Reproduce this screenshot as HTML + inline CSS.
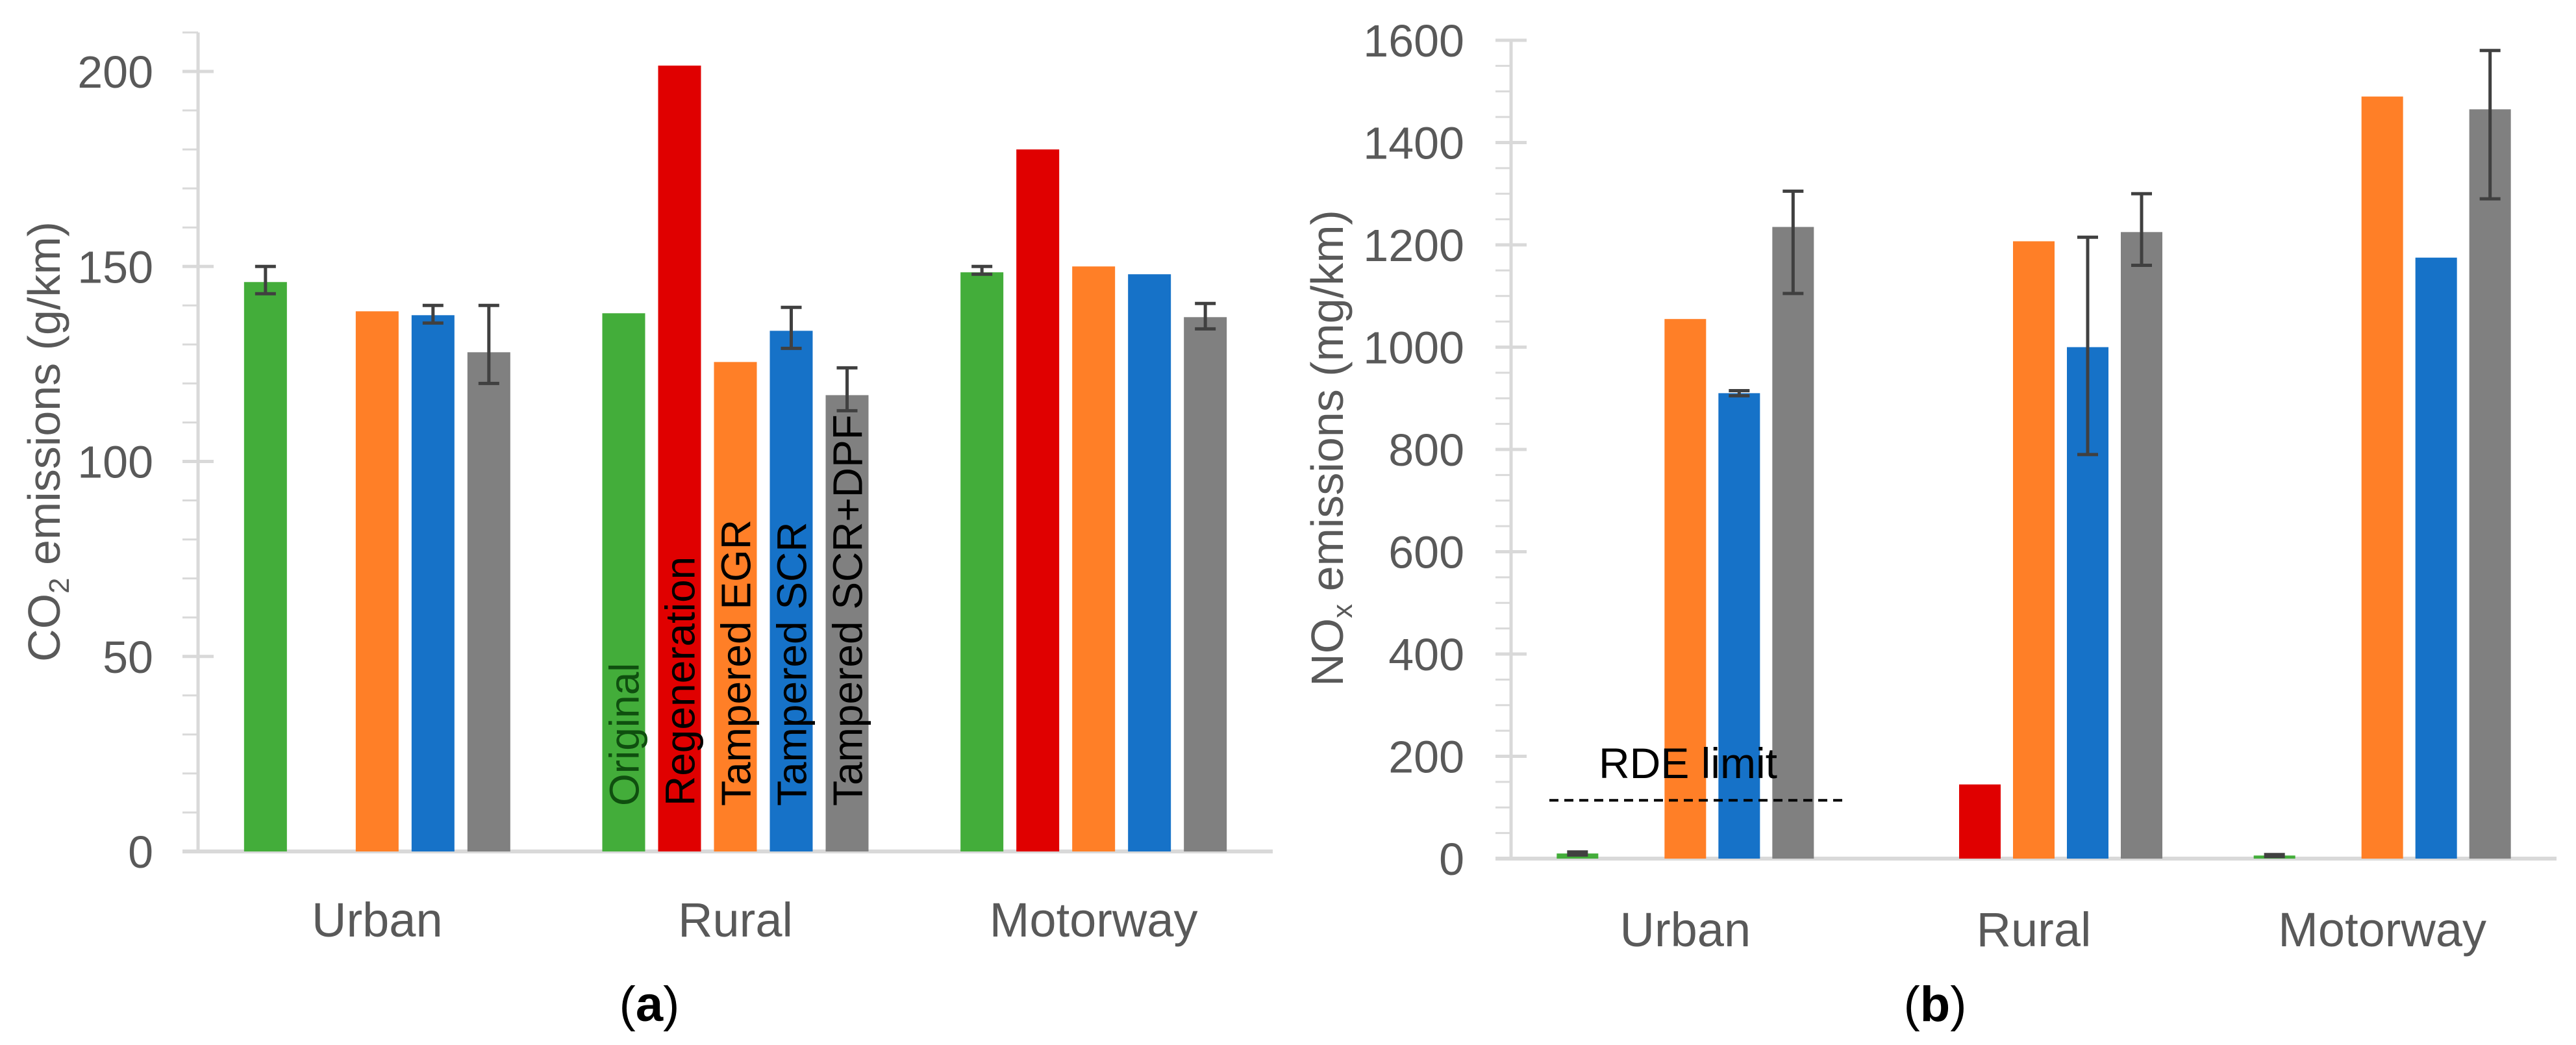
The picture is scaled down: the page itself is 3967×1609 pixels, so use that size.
<!DOCTYPE html>
<html><head><meta charset="utf-8">
<style>
html,body{margin:0;padding:0;background:#fff;}
svg{display:block;}
text{font-family:"Liberation Sans",sans-serif;}
</style></head>
<body>
<svg id="chart" width="3967" height="1609" viewBox="0 0 3967 1609" xmlns="http://www.w3.org/2000/svg">
<g id="pa"></g>
<g id="pb"></g>
</svg>
<script>
const categories = ["Urban","Rural","Motorway"];
const seriesNames = ["Original","Regeneration","Tampered EGR","Tampered SCR","Tampered SCR+DPF"];
const seriesColors = ["#43ad3a","#e00000","#ff7f27","#1672c8","#808080"];
// CO2 (g/km): per series, per category (null = no bar)
const co2Original = [146, 138, 148.5];
const co2Regeneration = [null, 201.5, 180];
const co2EGR = [138.5, 125.5, 150];
const co2SCR = [137.5, 133.5, 148];
const co2SCRDPF = [128, 117, 137];
const co2ErrLow = [[143,null,148],[null,null,null],[null,null,null],[135.5,129,null],[120,113,134]];
const co2ErrHigh = [[150,null,150],[null,null,null],[null,null,null],[140,139.5,null],[140,124,140.5]];
const co2Ticks = [0,50,100,150,200];
// NOx (mg/km)
const noxOriginal = [10, null, 6];
const noxRegeneration = [null, 145, null];
const noxEGR = [1055, 1207, 1490];
const noxSCR = [910, 1000, 1175];
const noxSCRDPF = [1235, 1225, 1465];
const noxErrLow = [[7,null,4],[null,null,null],[null,null,null],[905,790,null],[1105,1160,1290]];
const noxErrHigh = [[13,null,8],[null,null,null],[null,null,null],[915,1215,null],[1305,1300,1580]];
const noxTicks = [0,200,400,600,800,1000,1200,1400,1600];
const rdeLimit = [114];

const NS="http://www.w3.org/2000/svg";
function mk(parent,tag,attrs,txt){const e=document.createElementNS(NS,tag);for(const k in attrs)e.setAttribute(k,attrs[k]);if(txt!=null)e.textContent=txt;parent.appendChild(e);return e;}

function drawPanel(g,cfg){
  const yS=v=>cfg.y0-(v-cfg.vmin)/(cfg.vmax-cfg.vmin)*(cfg.y0-cfg.yTop);
  const band=(cfg.xR-cfg.xL)/categories.length;
  let ax=mk(g,'line',{x1:cfg.xL,y1:yS(cfg.axisTop),x2:cfg.xL,y2:cfg.y0,stroke:'#d9d9d9','stroke-width':5});
  
  
  for(let v=cfg.vmin;v<=cfg.axisTop+1e-6;v+=cfg.minor){
    const major=Math.abs(v/cfg.major-Math.round(v/cfg.major))<1e-6;
    let t=mk(g,'line',{x1:cfg.xL-24,y1:yS(v),x2:major?cfg.xL+24:cfg.xL,y2:yS(v),stroke:'#d9d9d9','stroke-width':major?5:3});
    
    
  }
  cfg.ticks.forEach(v=>{
    let t=mk(g,'text',{x:cfg.labelX,y:yS(v)+25,'text-anchor':'end','font-size':70,fill:'#595959'},String(v));
    
    
  });
  let bl=mk(g,'line',{x1:cfg.xL-24,y1:cfg.y0,x2:cfg.xR,y2:cfg.y0,stroke:'#d9d9d9','stroke-width':6});
  
  
  categories.forEach((c,ci)=>{
    const cx=cfg.xL+band*(ci+0.5);
    const start=cx-(4*cfg.stride+cfg.bw)/2;
    cfg.series.forEach((arr,si)=>{
      const v=arr[ci]; if(v==null) return;
      const x=start+si*cfg.stride;
      let r=mk(g,'rect',{x:x,y:yS(v),width:cfg.bw,height:cfg.y0-yS(v),fill:seriesColors[si]});
      
      
      const lo=cfg.errLo[si][ci],hi=cfg.errHi[si][ci];
      if(lo!=null){
        const ex=x+cfg.bw/2;
        let e=mk(g,'path',{d:`M${ex},${yS(lo)}V${yS(hi)}M${ex-16},${yS(lo)}H${ex+16}M${ex-16},${yS(hi)}H${ex+16}`,stroke:'#404040','stroke-width':5,fill:'none'});
        
        
      }
      if(cfg.inlineLabels && ci===1){
        let tl=mk(g,'text',{transform:`translate(${x+cfg.bw/2+23},${cfg.y0-70}) rotate(-90)`,'font-size':64,fill:si===0?'#0f4f0f':'#000'},seriesNames[si]);
        
        
      }
    });
    let cl=mk(g,'text',{x:cx,y:cfg.catY,'text-anchor':'middle','font-size':74,fill:'#595959'},c);
    
    
  });
  let tt=mk(g,'text',{transform:`translate(${cfg.titleX},${cfg.titleY}) rotate(-90)`,'text-anchor':'middle','font-size':70,fill:'#595959'});
  
  
  mk(tt,'tspan',{},cfg.titleA);
  mk(tt,'tspan',{'font-size':44,dy:14},cfg.titleSub);
  mk(tt,'tspan',{dy:-14},cfg.titleB);
  let pl=mk(g,'text',{x:cfg.panelX,y:1572,'text-anchor':'middle','font-size':76,'font-family':'Liberation Serif, serif',fill:'#000'});
  
  
  mk(pl,'tspan',{},'(');mk(pl,'tspan',{'font-weight':'bold'},cfg.panelL);mk(pl,'tspan',{},')');
  return yS;
}

drawPanel(document.getElementById('pa'),{
  xL:305,xR:1960,y0:1311,yTop:110,vmin:0,vmax:200,axisTop:210,minor:10,major:50,
  ticks:co2Ticks,labelX:236,stride:86,bw:66,catY:1442,
  series:[co2Original,co2Regeneration,co2EGR,co2SCR,co2SCRDPF],errLo:co2ErrLow,errHi:co2ErrHigh,
  inlineLabels:true,titleX:92,titleY:680,titleA:'CO',titleSub:'2',titleB:' emissions (g/km)',panelX:1000,panelL:'a'
});
const yB=drawPanel(document.getElementById('pb'),{
  xL:2327,xR:3937,y0:1322,yTop:62,vmin:0,vmax:1600,axisTop:1600,minor:50,major:200,
  ticks:noxTicks,labelX:2255,stride:83,bw:64,catY:1457,
  series:[noxOriginal,noxRegeneration,noxEGR,noxSCR,noxSCRDPF],errLo:noxErrLow,errHi:noxErrHigh,
  inlineLabels:false,titleX:2068,titleY:690,titleA:'NO',titleSub:'x',titleB:' emissions (mg/km)',panelX:2980,panelL:'b'
});
const pb=document.getElementById('pb');
let rl=mk(pb,'line',{x1:2386,x2:2842,y1:yB(rdeLimit[0]),y2:yB(rdeLimit[0]),stroke:'#000','stroke-width':4,'stroke-dasharray':'14 9'});


let rt=mk(pb,'text',{x:2462,y:yB(rdeLimit[0])-34,'font-size':66,fill:'#000'},'RDE limit');


</script>
</body></html>
